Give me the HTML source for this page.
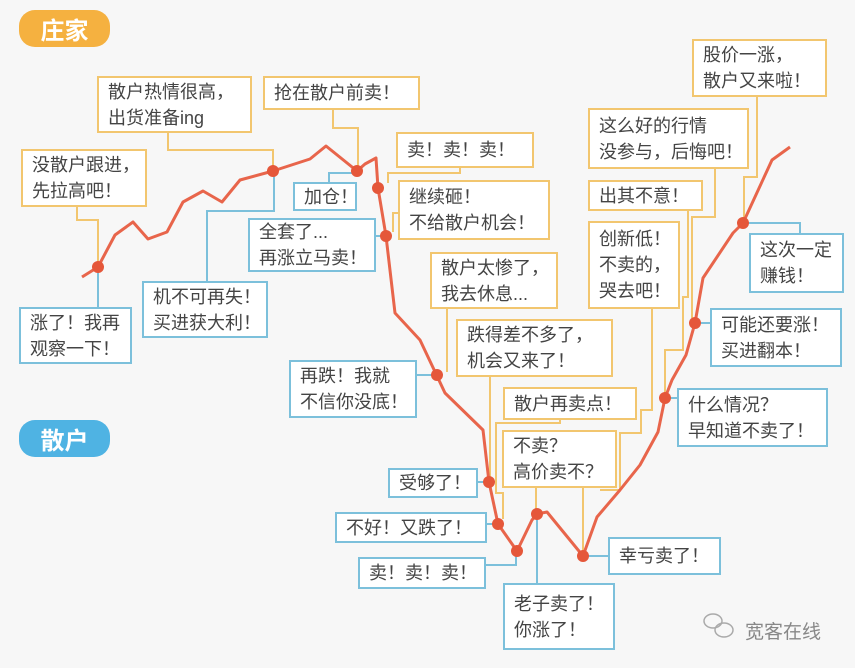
<!DOCTYPE html>
<html><head><meta charset="utf-8">
<style>
body{margin:0;background:#f7f7f7;}
#c{position:relative;width:855px;height:668px;overflow:hidden;background:#f7f7f7;font-family:"Liberation Sans","Noto Sans CJK SC",sans-serif;}
.b{position:absolute;box-sizing:border-box;background:#fff;color:#444;font-size:18px;line-height:26px;padding:0 6px 0 9px;display:flex;flex-direction:column;justify-content:center;white-space:nowrap;}
.o{border:2px solid #f2c66f;}
.u{border:2px solid #7cc0db;}
.p{position:absolute;border-radius:16px;color:#fff;font-size:24px;font-weight:bold;display:flex;align-items:center;justify-content:center;}
svg{position:absolute;left:0;top:0;}
</style></head><body><div id="c">
<svg width="855" height="668">
<g fill="none" stroke="#f2c66f" stroke-width="2">
<polyline points="77,207 77,220 98,220 98,262"/>
<polyline points="168,133 168,150 273,150 273,166"/>
<polyline points="333,110 333,128 358,128 358,166"/>
<polyline points="460,168 460,173 388,173 388,183"/>
<polyline points="398,213 393,213 393,232"/>
<polyline points="447,309 447,372"/>
<polyline points="490,377 490,478"/>
<polyline points="560,420 560,423 496,423 496,493 503,493 503,519"/>
<polyline points="536,488 536,510"/>
<polyline points="583,488 583,551"/>
<polyline points="652,309 652,410 641,410 641,433 620,433 620,490 600,490"/>
<polyline points="688,211 688,297 683,297 683,350 665,350 665,393"/>
<polyline points="715,169 715,217 692,217 692,318"/>
<polyline points="757,97 757,177 744,177 744,218"/>
</g>
<g fill="none" stroke="#7cc0db" stroke-width="2">
<polyline points="98,267 98,307"/>
<polyline points="207,281 207,211 274,211 274,171"/>
<polyline points="329,182 329,173 357,173"/>
<polyline points="376,236 386,236"/>
<polyline points="417,375 437,375"/>
<polyline points="478,482 489,482"/>
<polyline points="487,524 498,524"/>
<polyline points="486,565 516,565 516,551"/>
<polyline points="537,514 537,583"/>
<polyline points="583,556 608,556"/>
<polyline points="665,398 677,398"/>
<polyline points="695,323 710,323"/>
<polyline points="743,223 800,223 800,233"/>
</g>
<polyline fill="none" stroke="#e8654b" stroke-width="3" stroke-linejoin="round" points="82,277 98,267 115,235 133,222 148,239 167,232 183,202 203,191 222,202 240,180 273,171 310,159 326,146 357,171 365,164 376,158 378,188 386,236 395,313 420,340 437,376 445,393 483,430 489,482 498,524 517,551 532,520 537,514 547,512 583,556 597,517 620,490 640,465 658,432 665,398 672,380 686,355 695,323 703,278 733,233 743,223 772,160 790,147"/>
<g fill="#e5573a">
<circle cx="98" cy="267" r="6"/><circle cx="273" cy="171" r="6"/><circle cx="357" cy="171" r="6"/>
<circle cx="378" cy="188" r="6"/><circle cx="386" cy="236" r="6"/><circle cx="437" cy="375" r="6"/>
<circle cx="489" cy="482" r="6"/><circle cx="498" cy="524" r="6"/><circle cx="517" cy="551" r="6"/>
<circle cx="537" cy="514" r="6"/><circle cx="583" cy="556" r="6"/><circle cx="665" cy="398" r="6"/>
<circle cx="695" cy="323" r="6"/><circle cx="743" cy="223" r="6"/>
</g>
<g fill="none" stroke="#aaa" stroke-width="1.5">
<ellipse cx="713" cy="621" rx="9" ry="7"/><ellipse cx="724" cy="630" rx="9" ry="7"/>
</g>
<text x="745" y="638" font-size="19" fill="#888" font-family="Liberation Sans,Noto Sans CJK SC,sans-serif">宽客在线</text>
</svg>
<div class="p" style="left:19px;top:10px;width:91px;height:37px;background:#f5b140">庄家</div>
<div class="p" style="left:19px;top:420px;width:91px;height:37px;background:#4fb3e3">散户</div>

<div class="b o" style="left:21px;top:149px;width:126px;height:58px">没散户跟进，<br>先拉高吧！</div>
<div class="b o" style="left:97px;top:76px;width:155px;height:57px">散户热情很高，<br>出货准备ing</div>
<div class="b o" style="left:263px;top:76px;width:157px;height:34px">抢在散户前卖！</div>
<div class="b o" style="left:396px;top:132px;width:138px;height:36px">卖！卖！卖！</div>
<div class="b o" style="left:398px;top:180px;width:152px;height:60px">继续砸！<br>不给散户机会！</div>
<div class="b o" style="left:430px;top:252px;width:128px;height:57px">散户太惨了，<br>我去休息...</div>
<div class="b o" style="left:456px;top:319px;width:157px;height:58px">跌得差不多了，<br>机会又来了！</div>
<div class="b o" style="left:503px;top:387px;width:134px;height:33px">散户再卖点！</div>
<div class="b o" style="left:502px;top:430px;width:115px;height:58px">不卖？<br>高价卖不？</div>
<div class="b o" style="left:588px;top:108px;width:161px;height:61px">这么好的行情<br>没参与，后悔吧！</div>
<div class="b o" style="left:588px;top:180px;width:115px;height:31px">出其不意！</div>
<div class="b o" style="left:588px;top:221px;width:92px;height:88px">创新低！<br>不卖的，<br>哭去吧！</div>
<div class="b o" style="left:692px;top:39px;width:135px;height:58px">股价一涨，<br>散户又来啦！</div>

<div class="b u" style="left:19px;top:307px;width:113px;height:57px">涨了！我再<br>观察一下！</div>
<div class="b u" style="left:142px;top:281px;width:126px;height:57px">机不可再失！<br>买进获大利！</div>
<div class="b u" style="left:293px;top:182px;width:64px;height:29px">加仓！</div>
<div class="b u" style="left:248px;top:218px;width:128px;height:54px">全套了...<br>再涨立马卖！</div>
<div class="b u" style="left:749px;top:233px;width:95px;height:60px">这次一定<br>赚钱！</div>
<div class="b u" style="left:710px;top:308px;width:132px;height:59px">可能还要涨！<br>买进翻本！</div>
<div class="b u" style="left:677px;top:388px;width:151px;height:59px">什么情况？<br>早知道不卖了！</div>
<div class="b u" style="left:289px;top:360px;width:128px;height:58px">再跌！我就<br>不信你没底！</div>
<div class="b u" style="left:388px;top:468px;width:90px;height:30px">受够了！</div>
<div class="b u" style="left:335px;top:512px;width:152px;height:31px">不好！又跌了！</div>
<div class="b u" style="left:358px;top:557px;width:128px;height:32px">卖！卖！卖！</div>
<div class="b u" style="left:503px;top:583px;width:112px;height:67px">老子卖了！<br>你涨了！</div>
<div class="b u" style="left:608px;top:537px;width:113px;height:38px">幸亏卖了！</div>
</div></body></html>
